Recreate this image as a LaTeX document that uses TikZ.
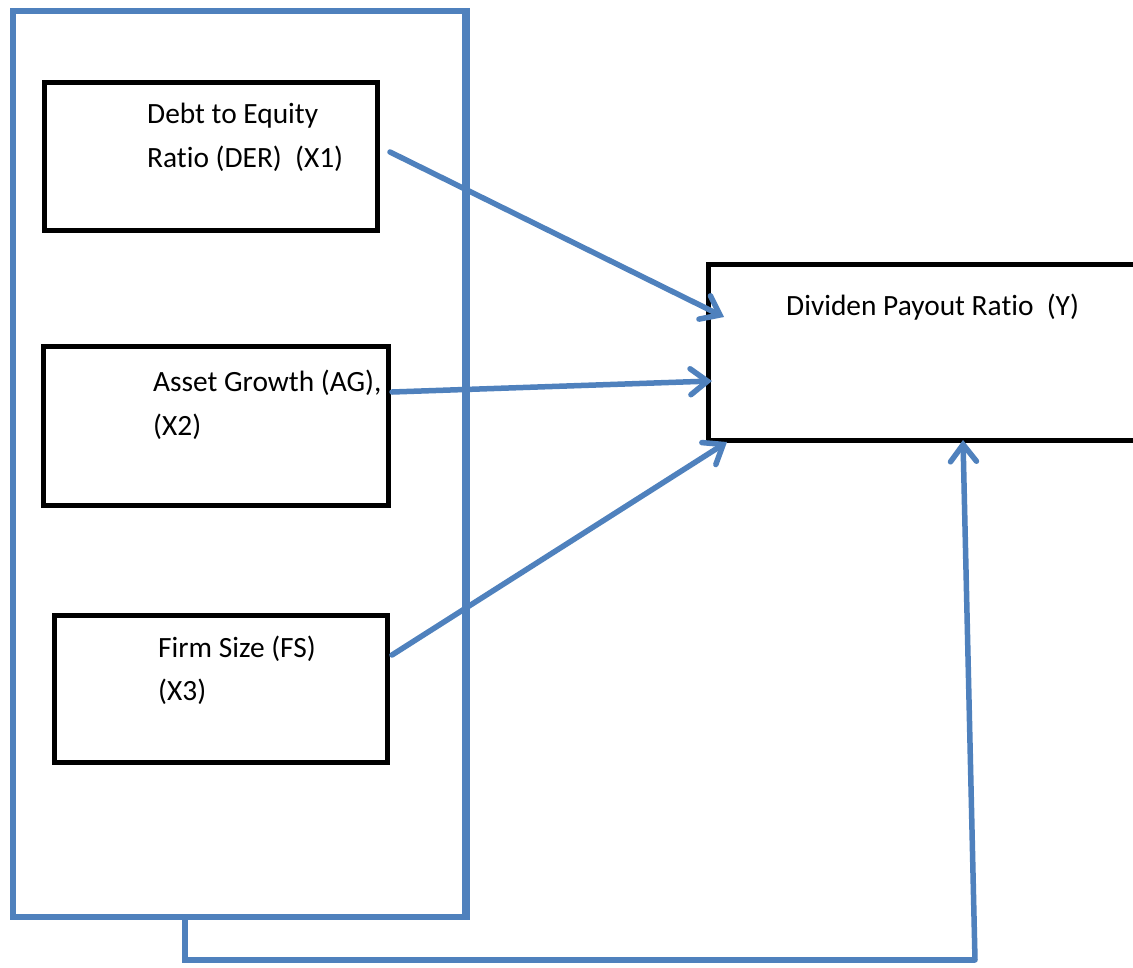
\documentclass[tikz,border=0pt]{standalone}
\usepackage{fontspec}
\setmainfont{Carlito}[Ligatures=NoCommon]
\usetikzlibrary{arrows.meta,calc}
\definecolor{ablue}{HTML}{4F81BD}
\begin{document}
\begin{tikzpicture}[x=1pt,y=-1pt,
  bbox/.style={draw=black, line width=4.5pt, inner sep=0pt, anchor=north west, fill=white},
  outerbox/.style={draw=ablue, line width=5.5pt, inner sep=0pt, anchor=north west},
  txt/.style={anchor=base west, inner sep=0pt, font=\fontsize{29.4}{44}\selectfont},
  conn/.style={draw=ablue, line width=5.5pt, line cap=round, line join=miter,
    -{Straight Barb[length=17pt,width=26pt,line cap=round]}},
  plain/.style={draw=ablue, line width=5.5pt, line join=miter}
]
\useasboundingbox (0,0) rectangle (1133,967);
\fill[white] (0,0) rectangle (1133,967);

% outer group
\node[outerbox, minimum width=452pt, minimum height=906pt] (grp) at (10,8) {};

% boxes
\node[bbox, minimum width=333pt, minimum height=148pt] (b1) at (42,80) {};
\node[bbox, minimum width=345pt, minimum height=159pt] (b2) at (41,344) {};
\node[bbox, minimum width=333pt, minimum height=147pt] (b3) at (52,613) {};
\node[bbox, minimum width=450pt, minimum height=176pt] (y) at (706,262) {};

% outer vertical line crosses the boxes
\draw[plain] (grp.north east) -- (grp.south east);

% texts
\node[txt] (t1a) at (147,123) {Debt to Equity};
\node[txt] (t1b) at (147,167) {Ratio (DER)\ \ (X1)};
\node[txt] (t2a) at (153,391) {Asset Growth (AG),};
\node[txt] (t2b) at (153,435) {(X2)};
\node[txt] (t3a) at (158,657) {Firm Size (FS)};
\node[txt] (t3b) at (158,700) {(X3)};
\node[txt] (ty) at (786,315) {Dividen Payout Ratio\ \ (Y)};

% connector end points
\coordinate (s1) at (390,152);
\coordinate (e1) at (724,317);
\coordinate (s2) at (392,392);
\coordinate (e2) at (712,381);
\coordinate (s3) at (392,655);
\coordinate (e3) at (727,442);
\coordinate (c1) at ($(grp.south west)+(175,0)$);
\coordinate (c2) at (185,960);
\coordinate (c3) at (975,960);
\coordinate (e4) at (963,440);

\draw[conn] (s1) -- (e1);
\draw[conn] (s2) -- (e2);
\draw[conn] (s3) -- (e3);
\draw[plain] (c1) -- (c2) -- (c3);
\draw[conn] (c3) -- (e4);
\end{tikzpicture}
\end{document}
